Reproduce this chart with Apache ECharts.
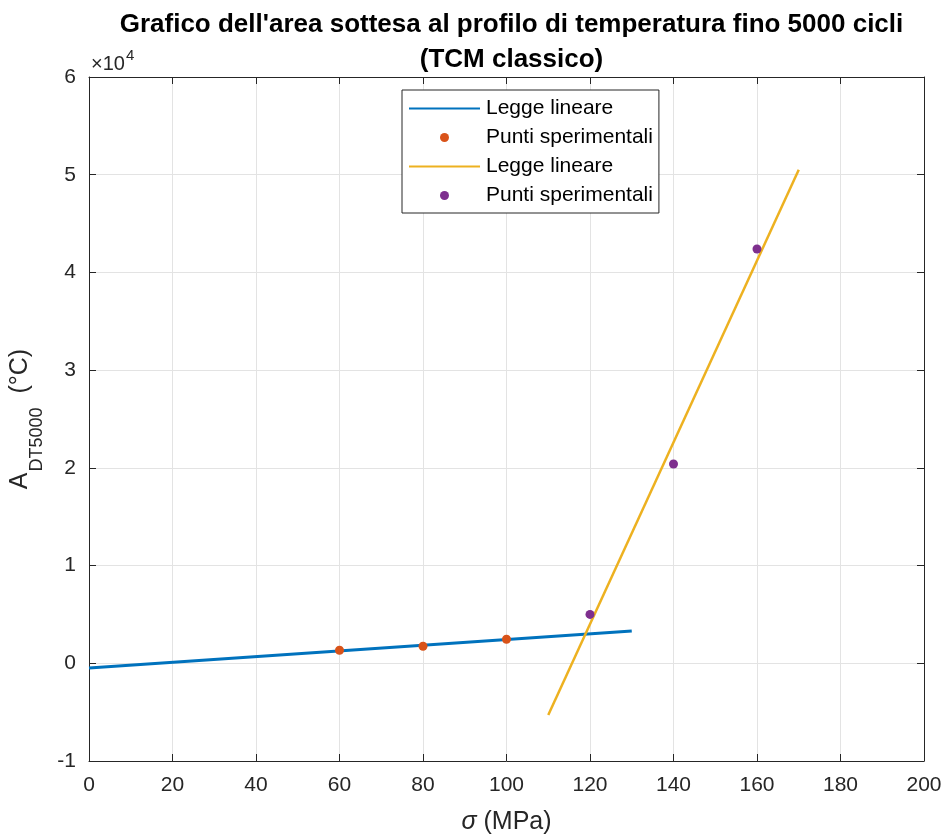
<!DOCTYPE html>
<html>
<head>
<meta charset="utf-8">
<script src="https://cdn.jsdelivr.net/npm/echarts@6/dist/echarts.min.js"></script>
<style>
html,body{margin:0;padding:0;background:#fff;}
#chart{width:952px;height:837px;}
</style>
</head>
<body>
<div id="chart"></div>
<script>
// ---- data ----
const titleLines = ["Grafico dell'area sottesa al profilo di temperatura fino 5000 cicli", "(TCM classico)"];
const xTicks = [0, 20, 40, 60, 80, 100, 120, 140, 160, 180, 200];
const yTicks = [-1, 0, 1, 2, 3, 4, 5, 6]; // ×10^4
const yScale = 10000;

// Legge lineare (blue) endpoints
const line1X = [0, 130];
const line1Y = [-480, 3300];
// Punti sperimentali (orange)
const pts1X = [60, 80, 100];
const pts1Y = [1330, 1740, 2460];
// Legge lineare (yellow) endpoints
const line2X = [110, 170];
const line2Y = [-5300, 50500];
// Punti sperimentali (purple)
const pts2X = [120, 140, 160];
const pts2Y = [5000, 20400, 42400];

const seriesNames = ['Legge lineare#1', 'Punti sperimentali#1', 'Legge lineare#2', 'Punti sperimentali#2'];

const zip = (xs, ys) => xs.map((x, i) => [x, ys[i]]);

const FONT = 'Liberation Sans, Arial, Helvetica, sans-serif';
const AX = '#262626';
const GRID_C = '#e3e3e3';

const chart = echarts.init(document.getElementById('chart'), null, {renderer: 'canvas'});

const gridLeft = 89, gridRight = 28, gridTop = 77, gridBottom = 76;

const tickCfg = {show: true, inside: true, length: 7, lineStyle: {color: AX, width: 1}};
const lineCfg = {show: true, onZero: false, lineStyle: {color: AX, width: 1}};

const option = {
  animation: false,
  backgroundColor: '#fff',
  textStyle: {fontFamily: FONT},
  title: {
    text: titleLines.join('\n'),
    left: gridLeft + (952 - gridLeft - gridRight) / 2,
    textAlign: 'center',
    top: 2,
    textStyle: {fontFamily: FONT, fontWeight: 'bold', fontSize: 26, lineHeight: 35, color: '#000'}
  },
  grid: {left: gridLeft, right: gridRight, top: gridTop, bottom: gridBottom, containLabel: false, outerBoundsMode: 'none'},
  legend: {
    orient: 'vertical',
    left: 402,
    top: 90,
    padding: [8, 6, 7, 6],
    itemGap: 8,
    itemWidth: 71,
    itemHeight: 9,
    backgroundColor: '#fff',
    borderColor: AX,
    borderWidth: 1,
    borderRadius: 0,
    selectedMode: false,
    textStyle: {fontFamily: FONT, fontSize: 21, color: '#000', padding: [0, 0, 0, 1]},
    formatter: n => n.split('#')[0],
    data: [
      {name: seriesNames[0], itemStyle: {opacity: 0}},
      {name: seriesNames[1]},
      {name: seriesNames[2], itemStyle: {opacity: 0}},
      {name: seriesNames[3]}
    ]
  },
  xAxis: [{
    type: 'value',
    min: xTicks[0], max: xTicks[xTicks.length - 1], interval: 20,
    position: 'bottom',
    name: '{i|σ} (MPa)',
    nameLocation: 'middle',
    nameGap: 49,
    nameTextStyle: {fontFamily: FONT, fontSize: 25, color: AX, rich: {i: {fontFamily: FONT, fontSize: 25, fontStyle: 'italic', color: AX}}},
    axisLine: lineCfg,
    axisTick: tickCfg,
    axisLabel: {fontFamily: FONT, fontSize: 21, color: AX, margin: 14},
    splitLine: {show: true, lineStyle: {color: GRID_C, width: 1}}
  }, {
    type: 'value',
    min: xTicks[0], max: xTicks[xTicks.length - 1], interval: 20,
    position: 'top',
    axisLine: lineCfg,
    axisTick: tickCfg,
    axisLabel: {show: false},
    splitLine: {show: false}
  }],
  yAxis: [{
    type: 'value',
    min: yTicks[0] * yScale, max: yTicks[yTicks.length - 1] * yScale, interval: yScale,
    position: 'left',
    name: '{a|A}{s|DT5000}{a|  (°C)}',
    nameLocation: 'middle',
    nameRotate: 90,
    nameGap: 44,
    nameTextStyle: {
      fontFamily: FONT, color: AX,
      rich: {
        a: {fontFamily: FONT, fontSize: 25, lineHeight: 25, color: AX, verticalAlign: 'top'},
        s: {fontFamily: FONT, fontSize: 18, lineHeight: 18, color: AX, verticalAlign: 'top', padding: [21, 0, 0, 1]}
      }
    },
    axisLine: lineCfg,
    axisTick: tickCfg,
    axisLabel: {fontFamily: FONT, fontSize: 21, color: AX, margin: 13, formatter: v => String(Math.round(v / yScale))},
    splitLine: {show: true, lineStyle: {color: GRID_C, width: 1}}
  }, {
    type: 'value',
    min: yTicks[0] * yScale, max: yTicks[yTicks.length - 1] * yScale, interval: yScale,
    position: 'right',
    axisLine: lineCfg,
    axisTick: tickCfg,
    axisLabel: {show: false},
    splitLine: {show: false}
  }],
  graphic: [{
    type: 'text',
    left: 91,
    top: 48,
    style: {
      text: '{a|×10}{b|4}',
      fontFamily: FONT,
      rich: {
        a: {fontFamily: FONT, fontSize: 20, lineHeight: 20, fill: AX, verticalAlign: 'bottom'},
        b: {fontFamily: FONT, fontSize: 15, lineHeight: 15, fill: AX, verticalAlign: 'bottom', padding: [0, 0, 11, 1]}
      }
    }
  }],
  series: [{
    name: seriesNames[0],
    type: 'line',
    data: zip(line1X, line1Y),
    symbol: 'none',
    lineStyle: {color: '#0072BD', width: 3},
    itemStyle: {color: '#0072BD'},
    silent: true,
    z: 2
  }, {
    name: seriesNames[1],
    type: 'scatter',
    data: zip(pts1X, pts1Y),
    symbol: 'circle',
    symbolSize: 9,
    itemStyle: {color: '#D95319', opacity: 1},
    silent: true,
    z: 3
  }, {
    name: seriesNames[2],
    type: 'line',
    data: zip(line2X, line2Y),
    symbol: 'none',
    lineStyle: {color: '#EDB120', width: 2.5},
    itemStyle: {color: '#EDB120'},
    silent: true,
    z: 4
  }, {
    name: seriesNames[3],
    type: 'scatter',
    data: zip(pts2X, pts2Y),
    symbol: 'circle',
    symbolSize: 9,
    itemStyle: {color: '#7E2F8E', opacity: 1},
    silent: true,
    z: 5
  }]
};

chart.setOption(option);
</script>
</body>
</html>
